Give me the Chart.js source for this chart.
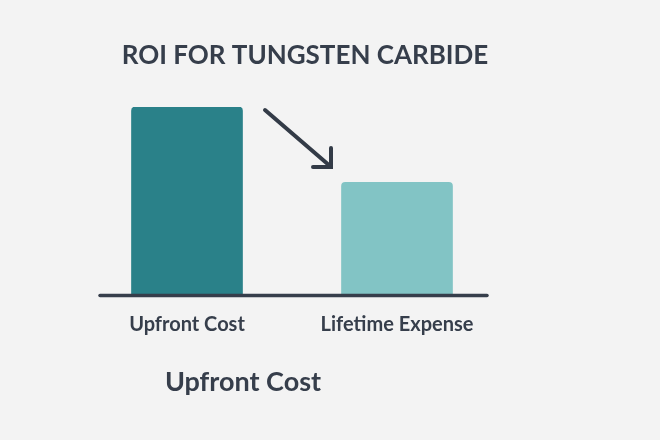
<!DOCTYPE html>
<html>
<head>
<meta charset="utf-8">
<script src="https://cdn.jsdelivr.net/npm/chart.js@4.4.1/dist/chart.umd.min.js"></script>
<style>
  html, body { margin: 0; padding: 0; background: #f3f3f3; }
  #wrap { width: 660px; height: 440px; }
</style>
</head>
<body>
<div id="wrap"><canvas id="c" width="660" height="440"></canvas></div>
<script>
const chartTitle = 'ROI FOR TUNGSTEN CARBIDE';
const categories = ['Upfront Cost', 'Lifetime Expense'];
const costValues = [100, 60];
const footerLabel = 'Upfront Cost';
const barColors = ['#2a8189', '#82c4c5'];
const textColor = '#363e4b';

const decorPlugin = {
  id: 'decor',
  beforeDraw(chart) {
    const ctx = chart.ctx;
    ctx.save();
    ctx.fillStyle = '#f3f3f3';
    ctx.fillRect(0, 0, chart.width, chart.height);
    ctx.restore();
  },
  afterDraw(chart) {
    const ctx = chart.ctx;
    const y = chart.scales.y;
    const base = y.getPixelForValue(0);
    ctx.save();
    // baseline
    ctx.strokeStyle = textColor;
    ctx.lineWidth = 3.5;
    ctx.lineCap = 'round';
    ctx.beginPath();
    ctx.moveTo(100, base);
    ctx.lineTo(487, base);
    ctx.stroke();
    // arrow
    ctx.strokeStyle = '#333b47';
    ctx.lineWidth = 4;
    ctx.beginPath();
    ctx.moveTo(265, 110);
    ctx.lineTo(330, 166);
    ctx.stroke();
    ctx.beginPath();
    ctx.moveTo(313, 167);
    ctx.lineTo(331, 167);
    ctx.lineTo(331, 148);
    ctx.stroke();
    // title
    ctx.fillStyle = textColor;
    ctx.textAlign = 'center';
    ctx.textBaseline = 'middle';
    ctx.font = 'bold 26px Lato';
    ctx.fillText(chartTitle, 305, 56);
    // footer
    ctx.font = 'bold 27px Lato';
    ctx.fillText(footerLabel, 243, 382);
    ctx.restore();
  }
};

new Chart(document.getElementById('c'), {
  type: 'bar',
  data: {
    labels: categories,
    datasets: [{
      data: costValues,
      backgroundColor: barColors,
      borderRadius: { topLeft: 4, topRight: 4 },
      borderSkipped: 'bottom',
      barThickness: 111
    }]
  },
  options: {
    responsive: false,
    animation: false,
    layout: { padding: { left: 82, right: 158, top: 107, bottom: 84.5 } },
    plugins: { legend: { display: false }, title: { display: false }, tooltip: { enabled: false } },
    scales: {
      x: {
        grid: { display: false },
        border: { display: false },
        ticks: { color: textColor, font: { family: 'Lato', weight: 'bold', size: 20 }, padding: 9 },
        afterFit(s) { s.height = 60; }
      },
      y: { display: false, min: 0, max: 100 }
    }
  },
  plugins: [decorPlugin]
});
</script>
</body>
</html>
